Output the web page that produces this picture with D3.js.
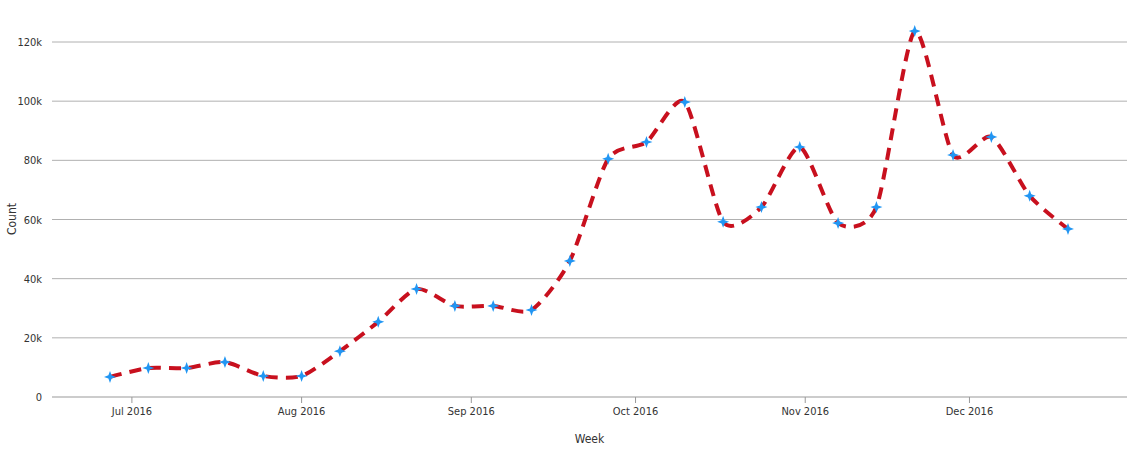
<!DOCTYPE html>
<html><head><meta charset="utf-8">
<script src="https://cdn.jsdelivr.net/npm/d3@7"></script>
<style>body{margin:0;background:#fff;font-family:"DejaVu Sans Condensed",Roboto,sans-serif;}</style>
</head><body><svg id="c" width="1147" height="456"></svg>
<script>
const weeks = ["2016-06-27","2016-07-04","2016-07-11","2016-07-18","2016-07-25","2016-08-01","2016-08-08","2016-08-15","2016-08-22","2016-08-29","2016-09-05","2016-09-12","2016-09-19","2016-09-26","2016-10-03","2016-10-10","2016-10-17","2016-10-24","2016-10-31","2016-11-07","2016-11-14","2016-11-21","2016-11-28","2016-12-05","2016-12-12","2016-12-19"];
const counts = [6800,9800,9800,11800,7100,7100,15500,25400,36500,30800,30800,29400,46000,80500,86200,99700,59200,64200,84500,58800,64200,123700,81800,87900,68000,56800];
const yTicks = [0,20000,40000,60000,80000,100000,120000];
const xTicks = ["2016-07-01","2016-08-01","2016-09-01","2016-10-01","2016-11-01","2016-12-01"];

const parse = d3.timeParse("%Y-%m-%d");
const data = weeks.map((w,i)=>({d:parse(w),v:counts[i]}));
const svg = d3.select("#c");
const x = d3.scaleTime().domain([parse("2016-06-27"),parse("2016-12-19")]).range([110,1068]);
const y = d3.scaleLinear().domain([0,120000]).range([397,42]);
const L=52,R=1127;

svg.append("g").selectAll("line").data(yTicks.slice(1)).join("line")
  .attr("x1",L).attr("x2",R).attr("y1",y).attr("y2",y).attr("stroke","#b0b0b0");
svg.append("g").selectAll("text").data(yTicks).join("text")
  .attr("x",42).attr("y",d=>y(d)+4).attr("text-anchor","end").attr("font-size",11).attr("fill","#333")
  .text(d=>d===0?"0":d/1000+"k");

const xa = svg.append("g").attr("transform","translate(0,397)");
xa.append("line").attr("x1",L).attr("x2",R).attr("stroke","#999");
const xt = xa.selectAll("g").data(xTicks.map(parse)).join("g").attr("transform",d=>`translate(${x(d)},0)`);
xt.append("line").attr("y2",6).attr("stroke","#999");
xt.append("text").attr("y",18).attr("text-anchor","middle").attr("font-size",11).attr("fill","#333")
  .text(d3.timeFormat("%b %Y"));

svg.append("text").attr("x",(L+R)/2).attr("y",443).attr("text-anchor","middle").attr("font-size",12).attr("fill","#333").text("Week");
svg.append("text").attr("transform","translate(16,219) rotate(-90)").attr("text-anchor","middle").attr("font-size",12).attr("fill","#333").text("Count");

svg.append("path").datum(data)
  .attr("d",d3.line().x(d=>x(d.d)).y(d=>y(d.v)).curve(d3.curveCardinal.tension(0.3)))
  .attr("fill","none").attr("stroke","#c8101e").attr("stroke-width",4).attr("stroke-dasharray","12,8");

const star = "M0,-6L1.6,-1.6L6,0L1.6,1.6L0,6L-1.6,1.6L-6,0L-1.6,-1.6Z";
svg.append("g").selectAll("path").data(data).join("path")
  .attr("transform",d=>`translate(${x(d.d)},${y(d.v)})`).attr("d",star).attr("fill","#2196f3");
</script></body></html>
